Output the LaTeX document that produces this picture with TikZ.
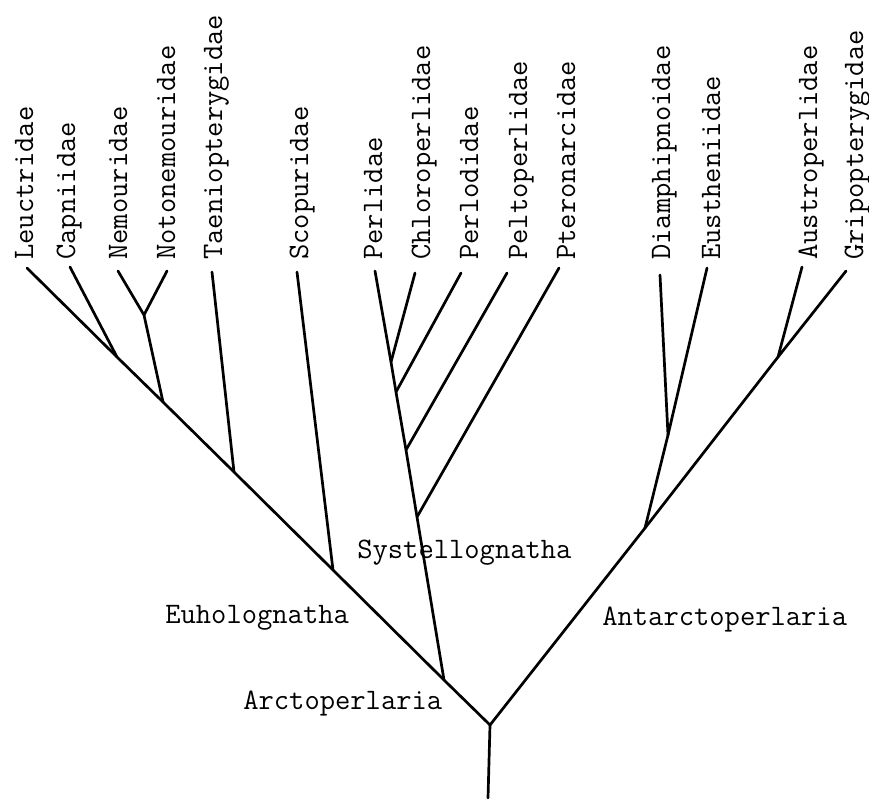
\documentclass[tikz,border=0pt]{standalone}
\usepackage{fontspec}
\begin{document}
\begin{tikzpicture}[x=1pt, y=-1pt, line width=2.7pt, line cap=round, line join=round,
  taxon/.style={rotate=90, anchor=base west, inner sep=0pt, font=\ttfamily\fontsize{29.7}{30}\selectfont},
  clade/.style={anchor=base west, inner sep=0pt, font=\ttfamily\fontsize{29.7}{30}\selectfont}]
\useasboundingbox (0,0) rectangle (869,798);

% stem and root
\coordinate (base) at (488,798);
\coordinate (root) at (490,725);

% Arctoperlaria side
\coordinate (arct) at (444,680);
\coordinate (euho) at (333,570);
\coordinate (taen) at (234,472);
\coordinate (nemc) at (163,402);
\coordinate (nemo) at (144,315);
\coordinate (capn) at (117,357);
\coordinate (syst) at (417,517);
\coordinate (pelt) at (406,450);
\coordinate (perl) at (396,392);
\coordinate (chlo) at (391,362);

% Antarctoperlaria side
\coordinate (anta) at (645,528);
\coordinate (diam) at (668,435);
\coordinate (aust) at (778,357);

% tips
\coordinate (tLeu) at (27,268);
\coordinate (tCap) at (70,267);
\coordinate (tNem) at (118,271);
\coordinate (tNot) at (167,271);
\coordinate (tTae) at (212,272);
\coordinate (tSco) at (297,272);
\coordinate (tPer) at (375,271);
\coordinate (tChl) at (415,273);
\coordinate (tPlo) at (461,273);
\coordinate (tPel) at (507,273);
\coordinate (tPte) at (559,268);
\coordinate (tDia) at (660,275);
\coordinate (tEus) at (707,268);
\coordinate (tAus) at (802,267);
\coordinate (tGri) at (846,271);

% family names
\node[taxon] (Leu) at (33,261) {Leuctridae};
\node[taxon] (Cap) at (75,261) {Capniidae};
\node[taxon] (Nem) at (127,261) {Nemouridae};
\node[taxon] (Not) at (175,261) {Notonemouridae};
\node[taxon] (Tae) at (222,261) {Taeniopterygidae};
\node[taxon] (Sco) at (308,261) {Scopuridae};
\node[taxon] (Per) at (382,261) {Perlidae};
\node[taxon] (Chl) at (430,261) {Chloroperlidae};
\node[taxon] (Plo) at (478,261) {Perlodidae};
\node[taxon] (Pel) at (527,261) {Peltoperlidae};
\node[taxon] (Pte) at (575,261) {Pteronarcidae};
\node[taxon] (Dia) at (670,261) {Diamphipnoidae};
\node[taxon] (Eus) at (720,261) {Eustheniidae};
\node[taxon] (Aus) at (817,261) {Austroperlidae};
\node[taxon] (Gri) at (863,261) {Gripopterygidae};

% clade names
\node[clade] (Euholo) at (164,623) {Euholognatha};
\node[clade] (Arcto) at (242,709) {Arctoperlaria};
\node[clade] (Systel) at (356,558) {Systellognatha};
\node[clade] (Antarc) at (601,625) {Antarctoperlaria};

% branches
\draw (base) -- (root);
\draw (root) -- (arct) -- (euho) -- (taen) -- (nemc) -- (capn) -- (tLeu);
\draw (capn) -- (tCap);
\draw (nemc) -- (nemo) -- (tNem);
\draw (nemo) -- (tNot);
\draw (taen) -- (tTae);
\draw (euho) -- (tSco);
\draw (arct) -- (syst) -- (pelt) -- (perl) -- (chlo) -- (tPer);
\draw (chlo) -- (tChl);
\draw (perl) -- (tPlo);
\draw (pelt) -- (tPel);
\draw (syst) -- (tPte);
\draw (root) -- (anta) -- (aust) -- (tGri);
\draw (aust) -- (tAus);
\draw (anta) -- (diam) -- (tDia);
\draw (diam) -- (tEus);
\end{tikzpicture}
\end{document}
